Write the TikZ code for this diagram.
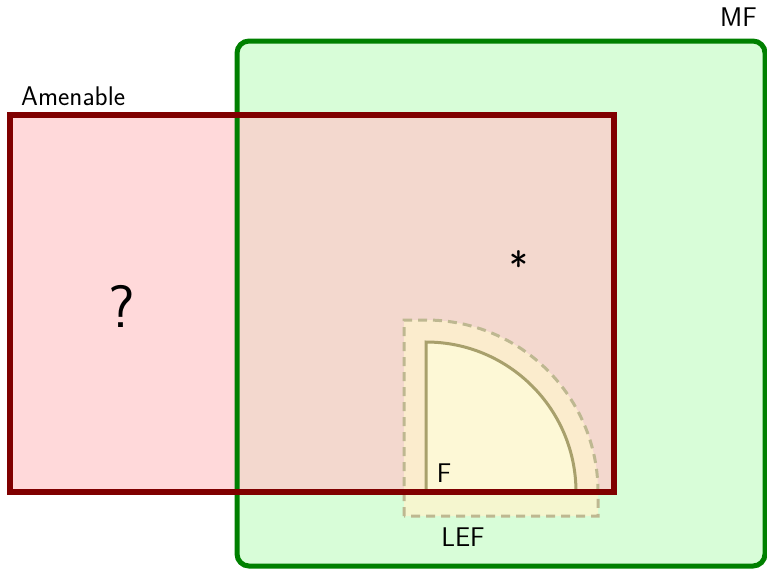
\documentclass[tikz,border=0pt]{standalone}
\usepackage{tikz}
\usepackage{xcolor}
\usetikzlibrary{positioning}

\definecolor{mfgreen}{RGB}{0,128,0}
\definecolor{mffill}{RGB}{216,253,216}
\definecolor{amred}{RGB}{128,0,0}
\definecolor{amfill}{RGB}{255,202,203}
\definecolor{lefline}{RGB}{190,184,145}
\definecolor{leffill}{RGB}{255,244,205}
\definecolor{fline}{RGB}{168,160,108}
\definecolor{ffill}{RGB}{253,248,214}

\tikzset{
    setlabel/.style={font=\fontsize{27}{32}\selectfont\sffamily, inner sep=0pt},
    mfbox/.style={draw=mfgreen, line width=5pt, rounded corners=12pt},
    ambox/.style={fill=amfill, fill opacity=0.71},
    amborder/.style={draw=amred, line width=6pt},
    lefregion/.style={draw=lefline, fill=leffill, fill opacity=0.75, line width=3pt, dash pattern=on 9pt off 6pt},
    fregion/.style={draw=fline, fill=ffill, line width=3pt}
}

\begin{document}
\begin{tikzpicture}[x=1pt, y=-1pt]
    \useasboundingbox (0,0) rectangle (767,571);

    % MF
    \fill[mffill, rounded corners=12pt] (237,41) rectangle (765,566);
    % Amenable
    \fill[ambox] (10,115) rectangle (614,492);
    \draw[mfbox] (237,41) rectangle (765,566);
    % LEF
    \draw[lefregion] (404,516) -- (404,320) -- (426,320)
        arc[start angle=90, end angle=0, x radius=172, y radius=-172] -- (598,516) -- cycle;
    % F
    \fill[ffill] (426,490) -- (426,342)
        arc[start angle=90, end angle=0, x radius=150, y radius=-150] -- cycle;
    \draw[fregion, fill=none] (426,490) -- (426,342)
        arc[start angle=90, end angle=0, x radius=150, y radius=-150];
    \draw[amborder] (10,115) rectangle (614,492);

    \node[setlabel, anchor=north east] (mf) at (757,8) {MF};
    \node[setlabel, anchor=south west] (amenable) at (21,106) {Amenable};
    \node[setlabel, font=\fontsize{60}{70}\selectfont\sffamily] (unknown) at (122,306) {?};
    \node[setlabel, font=\fontsize{40}{48}\selectfont\sffamily] (star) at (519,266) {*};
    \node[setlabel] (f) at (444,473) {F};
    \node[setlabel] (lef) at (463,537) {LEF};
\end{tikzpicture}
\end{document}
